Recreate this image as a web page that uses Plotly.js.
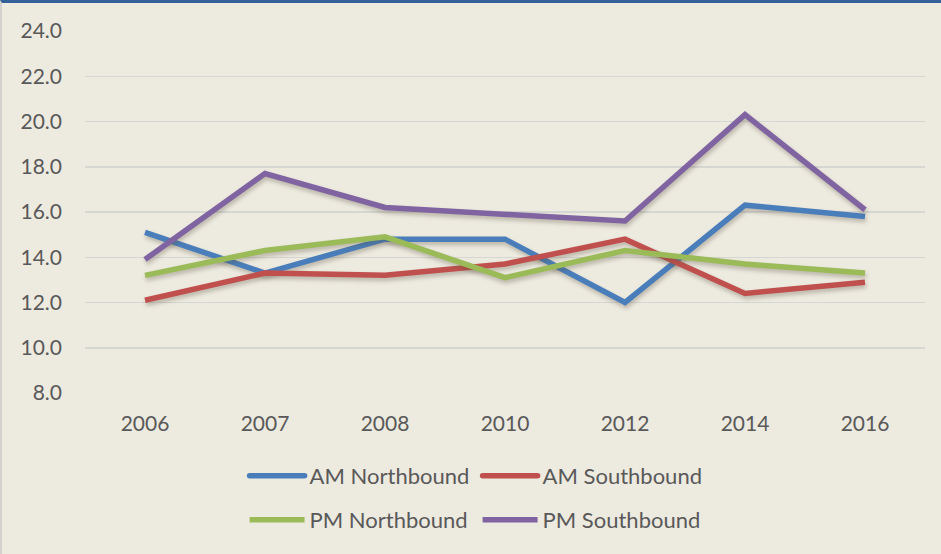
<!DOCTYPE html>
<html>
<head>
<meta charset="utf-8">
<script src="https://cdn.plot.ly/plotly-3.0.1.min.js"></script>
<style>
  html, body { margin: 0; padding: 0; background: #edeae0; }
  #frame {
    width: 939px; height: 551px;
    border-top: 3px solid #35619b;
    border-left: 2px solid #d3d2cc;
    background: #edeae0;
  }
  #chart { width: 939px; height: 551px; }
  .scatterlayer .js-line { filter: drop-shadow(1px 3px 2px rgba(90, 80, 60, 0.35)); }
</style>
</head>
<body>
<div id="frame"><div id="chart"></div></div>
<script>
// Survey years (categorical axis)
const years = ["2006", "2007", "2008", "2010", "2012", "2014", "2016"];

// Travel time per direction and peak period
const amNorthbound = [15.1, 13.3, 14.8, 14.8, 12.0, 16.3, 15.8];
const amSouthbound = [12.1, 13.3, 13.2, 13.7, 14.8, 12.4, 12.9];
const pmNorthbound = [13.2, 14.3, 14.9, 13.1, 14.3, 13.7, 13.3];
const pmSouthbound = [13.9, 17.7, 16.2, 15.9, 15.6, 20.3, 16.1];

const yTicks = [8, 10, 12, 14, 16, 18, 20, 22, 24];

const font = "Lato, 'Open Sans', sans-serif";
const textColor = "#595959";

// Legend swatch length (px); the text is placed right after it
const swatch = 55;

function series(name, values, color, legend) {
  return {
    type: "scatter",
    mode: "lines",
    name: name,
    x: years,
    y: values,
    line: { color: color, width: 5.5 },
    legend: legend,
    hoverinfo: "x+y+name"
  };
}

const traces = [
  series("AM Northbound", amNorthbound, "#4a7ebb", "legend"),
  series("AM Southbound", amSouthbound, "#c0504d", "legend"),
  series("PM Northbound", pmNorthbound, "#9bbb59", "legend2"),
  series("PM Southbound", pmSouthbound, "#8064a2", "legend2")
];

const legendCommon = {
  orientation: "h",
  xanchor: "left",
  yanchor: "middle",
  bgcolor: "rgba(0,0,0,0)",
  font: { family: font, size: 22, color: textColor },
  entrywidth: 163,
  entrywidthmode: "pixels",
  itemwidth: swatch
};

const layout = {
  width: 939,
  height: 551,
  margin: { l: 83, r: 16, t: 28, b: 161 },
  paper_bgcolor: "#edeae0",
  plot_bgcolor: "#edeae0",
  showlegend: true,
  xaxis: {
    type: "category",
    categoryorder: "array",
    categoryarray: years,
    range: [-0.5, years.length - 0.5],
    showgrid: false,
    zeroline: false,
    showline: false,
    ticks: "",
    ticklabelstandoff: 16,
    tickfont: { family: font, size: 21, color: textColor },
    fixedrange: true
  },
  yaxis: {
    range: [8, 24],
    tickvals: yTicks,
    ticktext: yTicks.map(v => v.toFixed(1)),
    showgrid: true,
    gridcolor: "#d6d6d2",
    gridwidth: 1.5,
    zeroline: false,
    showline: false,
    ticks: "",
    ticklabelstandoff: 22,
    tickfont: { family: font, size: 21, color: textColor },
    fixedrange: true
  },
  legend: Object.assign({}, legendCommon, { x: 0.19, y: -0.229 }),
  legend2: Object.assign({}, legendCommon, { x: 0.19, y: -0.351 })
};

Plotly.newPlot("chart", traces, layout, { displayModeBar: false, staticPlot: true }).then(gd => {
  // Stretch the legend line swatches to fill the wider symbol slot
  gd.querySelectorAll(".legend .legendlines path").forEach(p => {
    p.setAttribute("d", "M5,0h" + swatch);
    p.style.strokeLinecap = "round";
  });
});
</script>
</body>
</html>
